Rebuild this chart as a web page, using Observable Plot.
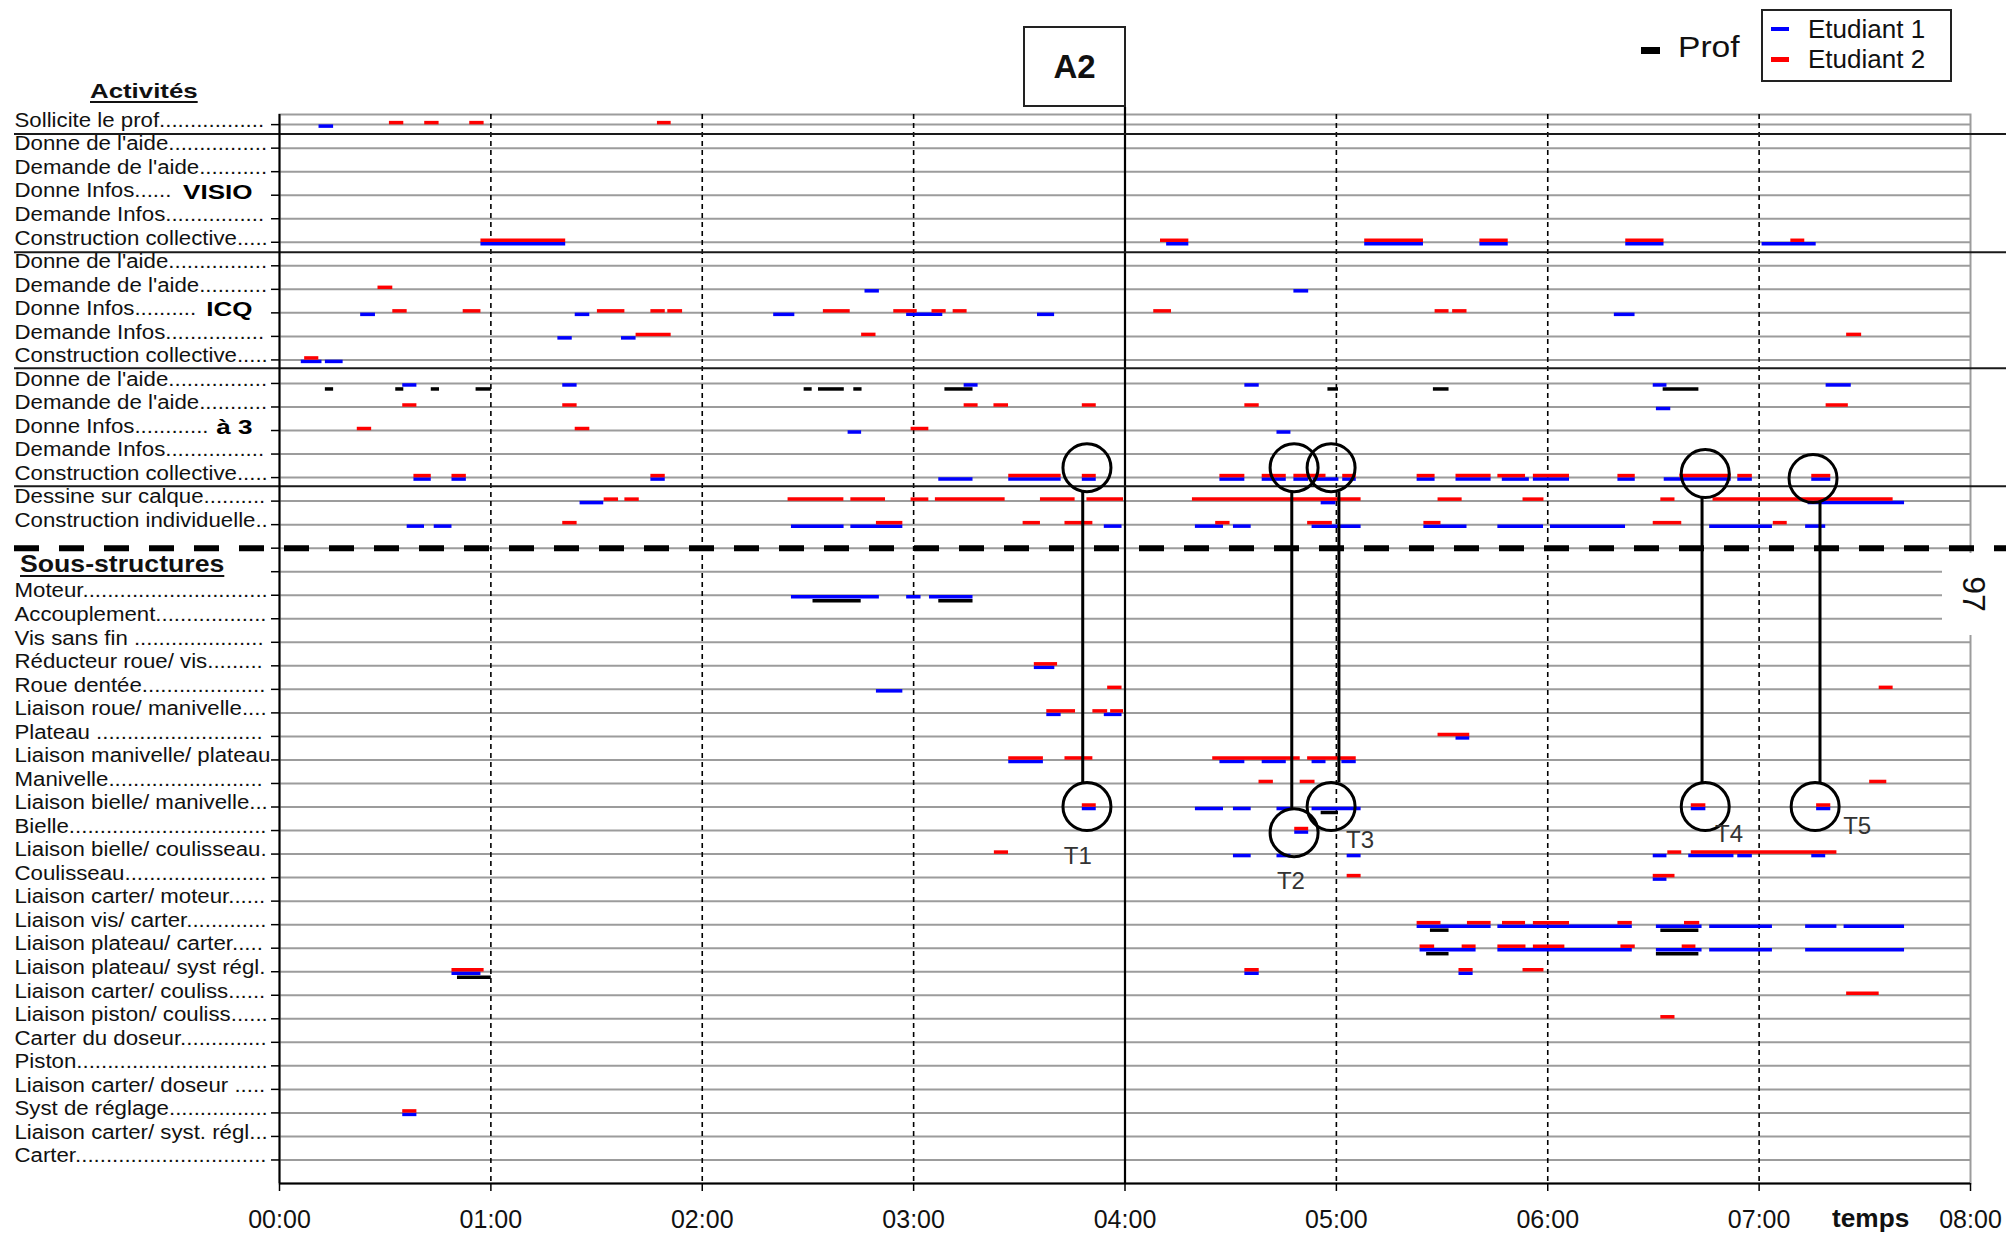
<!DOCTYPE html>
<html>
<head>
<meta charset="utf-8">
<script src="https://cdn.jsdelivr.net/npm/d3@7"></script>
<script src="https://cdn.jsdelivr.net/npm/@observablehq/plot@0.6"></script>
<style>
  body { margin: 0; background: #fff; }
  #wrap { position: relative; width: 2006px; height: 1233px; overflow: hidden; font-family: "Liberation Sans", Arial, sans-serif; color: #111; }
  #wrap svg { position: absolute; left: 0; top: 0; }
  .ov { position: absolute; white-space: nowrap; line-height: 1; }
  .hdr { font-weight: bold; text-decoration: underline; text-decoration-thickness: 2px; text-underline-offset: 3px; transform-origin: left center; }
</style>
</head>
<body>
<div id="wrap"></div>
<script>
// ---------- categories ----------
const activityLabels = [
  "Sollicite le prof", "Donne de l'aide", "Demande de l'aide", "Donne Infos", "Demande Infos",
  "Construction collective", "Donne de l'aide", "Demande de l'aide", "Donne Infos", "Demande Infos",
  "Construction collective", "Donne de l'aide", "Demande de l'aide", "Donne Infos", "Demande Infos",
  "Construction collective", "Dessine sur calque", "Construction individuelle"
];
const structureLabels = [
  "Moteur", "Accouplement", "Vis sans fin ", "Réducteur roue/ vis", "Roue dentée",
  "Liaison roue/ manivelle", "Plateau ", "Liaison manivelle/ plateau", "Manivelle", "Liaison bielle/ manivelle",
  "Bielle", "Liaison bielle/ coulisseau", "Coulisseau", "Liaison carter/ moteur", "Liaison vis/ carter",
  "Liaison plateau/ carter", "Liaison plateau/ syst régl", "Liaison carter/ couliss", "Liaison piston/ couliss", "Carter du doseur",
  "Piston", "Liaison carter/ doseur ", "Syst de réglage", "Liaison carter/ syst. régl", "Carter"
];
const groupLabels = ["VISIO", "ICQ", "à 3"];
const groupRows = [3, 8, 13];
const separatorRows = [0.4, 5.42, 10.35, 15.37];
const dividerRows = [18];
const hourTicks = [0, 1, 2, 3, 4, 5, 6, 7, 8];
const hourLabels = ["00:00", "01:00", "02:00", "03:00", "04:00", "05:00", "06:00", "07:00", "08:00"];
const dashedHours = [1, 2, 3, 5, 6, 7];
const sessionMarkHours = [4];

// ---------- series values: [row, start (h), end (h)] ----------
const etudiant1 = [
  [0,0.187,0.256],
  [5,0.953,1.354],[5,4.197,4.302],[5,5.134,5.412],[5,5.679,5.813],[5,6.369,6.550],[5,7.014,7.270],
  [7,2.770,2.838],[7,4.799,4.869],
  [8,0.384,0.454],[8,1.399,1.468],[8,2.338,2.438],[8,2.967,3.138],[8,3.586,3.667],[8,6.315,6.413],
  [9,1.317,1.385],[9,1.618,1.687],
  [10,0.103,0.201],[10,0.217,0.301],
  [11,0.583,0.650],[11,1.340,1.408],[11,3.239,3.305],[11,4.567,4.635],[11,6.499,6.564],[11,7.317,7.436],
  [12,6.514,6.582],
  [13,2.690,2.754],[13,4.719,4.785],
  [15,0.636,0.718],[15,0.816,0.884],[15,1.757,1.825],[15,3.119,3.281],[15,3.450,3.698],[15,3.798,3.864],
  [15,4.449,4.567],[15,4.649,4.763],[15,4.799,4.869],[15,4.890,5.012],[15,5.030,5.094],[15,5.382,5.467],
  [15,5.566,5.732],[15,5.785,5.913],[15,5.932,6.103],[15,6.332,6.414],[15,6.551,6.868],[15,6.899,6.968],[15,7.249,7.339],
  [16,1.422,1.534],[16,4.928,4.998],[16,7.232,7.688],
  [17,0.604,0.686],[17,0.732,0.816],[17,2.422,2.671],[17,2.703,2.949],[17,3.902,3.986],[17,4.333,4.466],
  [17,4.513,4.597],[17,4.885,5.117],[17,5.414,5.618],[17,5.764,5.980],[17,6.013,6.368],[17,6.766,7.063],[17,7.220,7.315],
  [20,2.422,2.838],[20,2.967,3.035],[20,3.075,3.281],
  [23,3.571,3.668],
  [24,2.824,2.949],
  [25,3.630,3.698],[25,3.902,3.986],
  [26,5.566,5.631],
  [27,3.450,3.614],[27,4.449,4.567],[27,4.649,4.763],[27,4.885,4.951],[27,5.026,5.094],
  [29,3.798,3.864],[29,4.333,4.466],[29,4.513,4.597],[29,4.719,4.785],[29,4.885,5.117],[29,6.679,6.748],[29,7.272,7.339],
  [30,4.803,4.869],
  [31,4.513,4.597],[31,4.719,4.785],[31,5.051,5.117],[31,6.499,6.564],[31,6.667,6.881],[31,6.899,6.968],[31,7.249,7.315],
  [32,6.499,6.564],
  [34,5.382,5.732],[34,5.764,6.400],[34,6.514,6.730],[34,6.766,7.063],[34,7.220,7.368],[34,7.402,7.688],
  [35,5.396,5.661],[35,5.764,6.400],[35,6.514,6.730],[35,6.766,7.063],[35,7.220,7.688],
  [36,0.816,0.953],[36,4.567,4.635],[36,5.580,5.647],
  [42,0.583,0.650]
];
const etudiant2 = [
  [0,0.520,0.588],[0,0.687,0.755],[0,0.900,0.968],[0,1.788,1.853],
  [5,0.953,1.354],[5,4.168,4.302],[5,5.134,5.412],[5,5.679,5.813],[5,6.369,6.550],[5,7.150,7.216],
  [7,0.466,0.536],
  [8,0.536,0.604],[8,0.869,0.953],[8,1.504,1.634],[8,1.757,1.825],[8,1.837,1.907],[8,2.573,2.700],
  [8,2.906,3.017],[8,3.087,3.154],[8,3.187,3.253],[8,4.136,4.220],[8,5.467,5.533],[8,5.550,5.618],
  [9,1.687,1.853],[9,2.754,2.822],[9,7.414,7.485],
  [10,0.119,0.186],
  [12,0.583,0.650],[12,1.340,1.408],[12,3.239,3.305],[12,3.380,3.449],[12,3.798,3.864],[12,4.567,4.635],[12,7.317,7.422],
  [13,0.368,0.436],[13,1.399,1.468],[13,2.988,3.072],
  [15,0.636,0.718],[15,0.816,0.884],[15,1.757,1.825],[15,3.450,3.698],[15,3.798,3.864],[15,4.449,4.567],
  [15,4.649,4.763],[15,4.799,4.951],[15,5.030,5.094],[15,5.382,5.467],[15,5.566,5.732],[15,5.764,5.895],
  [15,5.932,6.103],[15,6.332,6.414],[15,6.625,6.868],[15,6.899,6.968],[15,7.249,7.339],
  [16,1.536,1.604],[16,1.634,1.702],[16,2.406,2.670],[16,2.703,2.867],[16,2.988,3.072],[16,3.103,3.433],
  [16,3.600,3.764],[16,3.820,3.993],[16,4.319,5.117],[16,5.481,5.595],[16,5.883,5.982],[16,6.535,6.602],[16,6.782,7.634],
  [17,1.340,1.408],[17,2.824,2.949],[17,3.518,3.600],[17,3.716,3.848],[17,4.429,4.497],[17,4.864,4.981],
  [17,5.414,5.495],[17,6.499,6.634],[17,7.067,7.133],
  [23,3.571,3.681],
  [24,3.918,3.986],[24,7.568,7.634],
  [25,3.630,3.766],[25,3.848,3.918],[25,3.932,3.993],
  [26,5.481,5.631],
  [27,3.450,3.614],[27,3.716,3.848],[27,4.415,4.829],[27,4.864,5.094],
  [28,4.634,4.702],[28,4.829,4.899],[28,7.523,7.604],
  [29,3.798,3.864],[29,6.679,6.748],[29,7.272,7.339],
  [30,4.803,4.869],
  [31,3.382,3.449],[31,6.568,6.634],[31,6.679,7.368],
  [32,5.051,5.117],[32,6.499,6.602],
  [34,5.382,5.495],[34,5.620,5.732],[34,5.786,5.895],[34,5.932,6.103],[34,6.332,6.400],[34,6.647,6.719],
  [35,5.396,5.465],[35,5.595,5.661],[35,5.764,5.897],[35,5.932,6.081],[35,6.346,6.414],[35,6.636,6.701],
  [36,0.816,0.968],[36,4.567,4.635],[36,5.580,5.647],[36,5.883,5.982],
  [37,7.414,7.568],
  [38,6.535,6.602],
  [42,0.583,0.650]
];
const prof = [
  [11,0.217,0.256],[11,0.550,0.588],[11,0.718,0.757],[11,0.930,1.002],[11,2.482,2.520],[11,2.550,2.672],
  [11,2.717,2.756],[11,3.148,3.281],[11,4.960,5.010],[11,5.459,5.533],[11,6.546,6.715],
  [20,2.524,2.752],[20,3.119,3.281],
  [29,4.928,5.010],
  [34,5.445,5.533],[34,6.535,6.715],
  [35,5.427,5.533],[35,6.514,6.715],
  [36,0.842,1.002]
];

// ---------- T annotations (time in h, row index) ----------
const tNames = ["T1", "T2", "T3", "T4", "T5"];
const tTopTime = [3.82, 4.80, 4.975, 6.745, 7.255];
const tTopRow = [14.58, 14.58, 14.58, 14.83, 15.04];
const tBottomTime = [3.82, 4.80, 4.975, 6.745, 7.265];
const tBottomRow = [28.98, 30.09, 28.98, 28.98, 28.98];
const tLineTime = [3.80, 4.789, 5.012, 6.73, 7.288];
const tLineTop = [15.6, 15.6, 15.6, 15.85, 16.06];
const tLineBottom = [27.96, 29.07, 27.96, 27.96, 27.96];
const tLabelTime = [3.777, 4.785, 5.112, 6.858, 7.464];
const tLabelRow = [31.1, 32.17, 30.43, 30.17, 29.83];

// ---------- build ----------
const labelFont = 19.5;
const labelStretch = 1.14;
const groupStretch = 1.3;
const ctx = document.createElement("canvas").getContext("2d");
ctx.font = `${labelFont}px "Liberation Sans"`;
const leaderWidth = 223;                 // natural width of a label with its dot leader
const groupLeaderWidth = [143, 163, 172]; // shorter leaders where a group name follows
const padLabel = (s, w) => {
  if (!s) return s;
  let t = s;
  while (ctx.measureText(t + ".").width <= w) t += ".";
  return t;
};
const rows = [...activityLabels, "", "", ...structureLabels].map((label, index) => {
  const g = groupRows.indexOf(index);
  return {index, label: padLabel(label, g >= 0 ? groupLeaderWidth[g] : leaderWidth)};
});
const labelSet = new Set(rows.map(d => d.label).filter(Boolean));
const groupSet = new Set(groupLabels);
const tIdx = tNames.map((_, i) => i);

const seg = (data, color, dy) =>
  Plot.ruleY(data, {y: d => d[0], x1: d => d[1], x2: d => d[2], stroke: color, strokeWidth: 3.5, dy});

const chart = Plot.plot({
  width: 2006,
  height: 1233,
  marginLeft: 279,
  marginRight: 36,
  marginTop: 114,
  marginBottom: 50,
  x: {domain: [0, 8]},
  y: {domain: [-0.43, 45], reverse: true},
  style: {background: "transparent", fontFamily: '"Liberation Sans", Arial, sans-serif', overflow: "visible", color: "#111"},
  marks: [
    Plot.ruleY(rows, {y: "index", stroke: "#9c9c9c", strokeWidth: 2}),
    Plot.frame({stroke: "#9c9c9c", strokeWidth: 2}),
    Plot.ruleX(dashedHours, {stroke: "#000", strokeWidth: 1.6, strokeDasharray: "5,4"}),
    Plot.ruleX(sessionMarkHours, {stroke: "#000", strokeWidth: 2.2, insetTop: -7}),
    Plot.ruleY(separatorRows, {stroke: "#1a1a1a", strokeWidth: 2, insetLeft: -265, insetRight: -36}),
    Plot.ruleY(dividerRows, {stroke: "#000", strokeWidth: 6, strokeDasharray: "25,20", insetLeft: -265, insetRight: -36}),
    Plot.ruleX([0], {stroke: "#000", strokeWidth: 2}),
    Plot.ruleY([45], {stroke: "#000", strokeWidth: 2}),
    Plot.axisY(rows.map(d => d.index), {tickSize: 8, tickFormat: () => "", label: null, stroke: "#000", strokeWidth: 1.5}),
    Plot.axisX(hourTicks, {tickSize: 8, tickPadding: 19, tickFormat: d => hourLabels[d], fontSize: 25, label: null, stroke: "#000", strokeWidth: 1.5, fill: "#111"}),
    Plot.text(rows, {frameAnchor: "left", y: "index", text: "label", textAnchor: "start", dx: -265, dy: -4, fontSize: labelFont, fill: "#111"}),
    Plot.text(groupLabels, {frameAnchor: "left", y: (d, i) => groupRows[i], text: d => d, textAnchor: "end", dx: -27, dy: -3, fontSize: 20, fontWeight: "bold", fill: "#000"}),
    seg(prof, "#000", 5.5),
    seg(etudiant1, "#0000ff", 1.5),
    seg(etudiant2, "#ff0000", -2),
    Plot.ruleX(tIdx, {x: i => tLineTime[i], y1: i => tLineTop[i], y2: i => tLineBottom[i], stroke: "#000", strokeWidth: 3}),
    Plot.dot(tIdx, {x: i => tTopTime[i], y: i => tTopRow[i], r: 24, stroke: "#000", strokeWidth: 3, fill: "none"}),
    Plot.dot(tIdx, {x: i => tBottomTime[i], y: i => tBottomRow[i], r: 24, stroke: "#000", strokeWidth: 3, fill: "none"}),
    Plot.text(tIdx, {x: i => tLabelTime[i], y: i => tLabelRow[i], text: i => tNames[i], fontSize: 24, fill: "#333"})
  ]
});

const wrap = document.getElementById("wrap");
wrap.appendChild(chart);

// horizontal stretch of the label texts, as in the original scan
chart.querySelectorAll("text").forEach(t => {
  const s = t.textContent;
  let f = 0;
  if (labelSet.has(s)) f = labelStretch;
  else if (groupSet.has(s)) f = groupStretch;
  if (f) {
    const w = t.getComputedTextLength();
    if (w > 0) {
      t.setAttribute("textLength", (w * f).toFixed(1));
      t.setAttribute("lengthAdjust", "spacingAndGlyphs");
    }
  }
});

// ---------- overlays: titles and legend ----------
const add = (html, style, cls = "ov") => {
  const d = document.createElement("div");
  d.className = cls;
  d.setAttribute("style", style);
  d.innerHTML = html;
  wrap.appendChild(d);
  return d;
};
add("A2", "left:1023px;top:26px;width:103px;height:81px;border:2px solid #222;box-sizing:border-box;display:flex;align-items:center;justify-content:center;font-weight:bold;font-size:33px;background:#fff;");
add("", "left:1641px;top:47px;width:19px;height:7px;background:#000;");
add("Prof", "left:1678px;top:32px;font-size:30px;transform:scaleX(1.12);transform-origin:left center;");
add("", "left:1761px;top:9px;width:191px;height:73px;border:2px solid #222;box-sizing:border-box;background:#fff;");
add("", "left:1771px;top:27px;width:18px;height:4px;background:#0000ff;");
add("Etudiant 1", "left:1808px;top:16px;font-size:26px;");
add("", "left:1771px;top:57px;width:18px;height:5px;background:#ff0000;");
add("Etudiant 2", "left:1808px;top:46px;font-size:26px;");
add("Activités", "left:90px;top:80px;font-size:21px;transform:scaleX(1.23);", "ov hdr");
add("Sous-structures", "left:20px;top:552px;font-size:24px;transform:scaleX(1.11);", "ov hdr");
add("temps", "left:1832px;top:1206px;font-size:25px;font-weight:bold;transform:scaleX(1.05);transform-origin:left center;");
add('<div style="position:absolute;left:32px;top:41px;transform:translate(-50%,-50%) rotate(90deg);font-size:32px;line-height:1;">97</div>',
    "left:1942px;top:553px;width:64px;height:82px;background:#fff;");
</script>
</body>
</html>
